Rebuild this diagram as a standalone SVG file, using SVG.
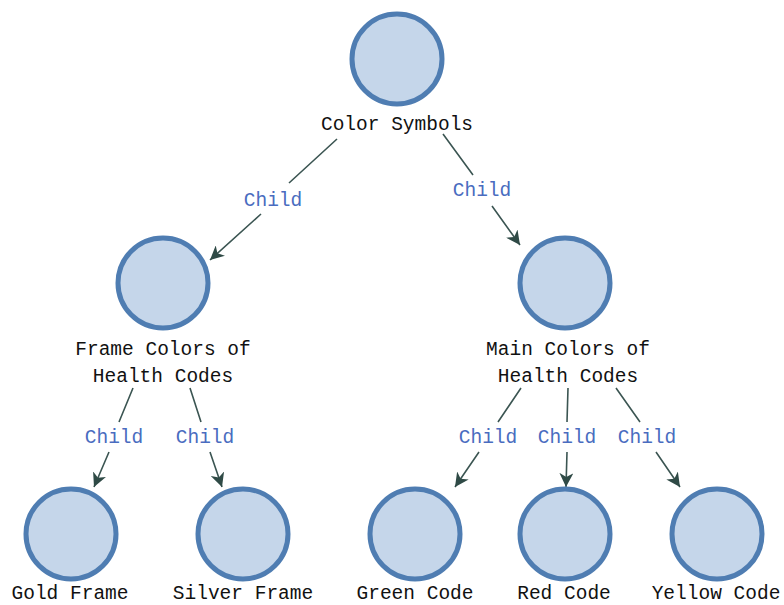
<svg xmlns="http://www.w3.org/2000/svg" width="784" height="605" viewBox="0 0 784 605">
<style>
.node circle{fill:#c5d6ea;stroke:#4f7db2;stroke-width:5}
.node text{font-family:"Liberation Mono","DejaVu Sans Mono",monospace;font-size:19.5px;fill:#111;text-anchor:middle}
.edge path{fill:none;stroke:#3b5552;stroke-width:1.6}
.edge text{font-family:"Liberation Mono","DejaVu Sans Mono",monospace;font-size:19.5px;fill:#4a6cc0;text-anchor:middle}
</style>
<defs>
<marker id="arr" markerUnits="userSpaceOnUse" markerWidth="16" markerHeight="14" refX="14" refY="7" orient="auto">
<path d="M0,0 L14,7 L0,14 L4,7 z" fill="#2f4a46"/>
</marker>
</defs>
<rect width="784" height="605" fill="#ffffff"/>
<g id="edges">
<g class="edge"><path d="M337,139 L289,183 M261,214 L210,260" marker-end="url(#arr)"/><text x="273" y="206">Child</text></g>
<g class="edge"><path d="M443,134 L473,175 M492,206 L520,245" marker-end="url(#arr)"/><text x="482" y="196">Child</text></g>
<g class="edge"><path d="M133,388 L119,422 M109,452 L94,487" marker-end="url(#arr)"/><text x="114" y="443">Child</text></g>
<g class="edge"><path d="M190,388 L201,422 M210,452 L222,487" marker-end="url(#arr)"/><text x="205" y="443">Child</text></g>
<g class="edge"><path d="M521,388 L498,422 M479,452 L455,487" marker-end="url(#arr)"/><text x="488" y="443">Child</text></g>
<g class="edge"><path d="M568,388 L567,422 M567,452 L566,487" marker-end="url(#arr)"/><text x="567" y="443">Child</text></g>
<g class="edge"><path d="M616,388 L640,422 M656,452 L680,487" marker-end="url(#arr)"/><text x="647" y="443">Child</text></g>
</g>
<g id="n-root" class="node"><circle cx="397" cy="59" r="45"/><text x="397" y="130">Color Symbols</text></g>
<g id="n-frame" class="node"><circle cx="163" cy="283" r="45"/><text x="163" y="355">Frame Colors of</text><text x="163" y="382">Health Codes</text></g>
<g id="n-main" class="node"><circle cx="565" cy="283" r="45"/><text x="568" y="355">Main Colors of</text><text x="568" y="382">Health Codes</text></g>
<g id="n-gold" class="node"><circle cx="71" cy="534" r="45"/><text x="70" y="599">Gold Frame</text></g>
<g id="n-silver" class="node"><circle cx="243" cy="534" r="45"/><text x="243" y="599">Silver Frame</text></g>
<g id="n-green" class="node"><circle cx="415" cy="534" r="45"/><text x="415" y="599">Green Code</text></g>
<g id="n-red" class="node"><circle cx="565" cy="534" r="45"/><text x="564" y="599">Red Code</text></g>
<g id="n-yellow" class="node"><circle cx="717" cy="534" r="45"/><text x="716" y="599">Yellow Code</text></g>
</svg>
